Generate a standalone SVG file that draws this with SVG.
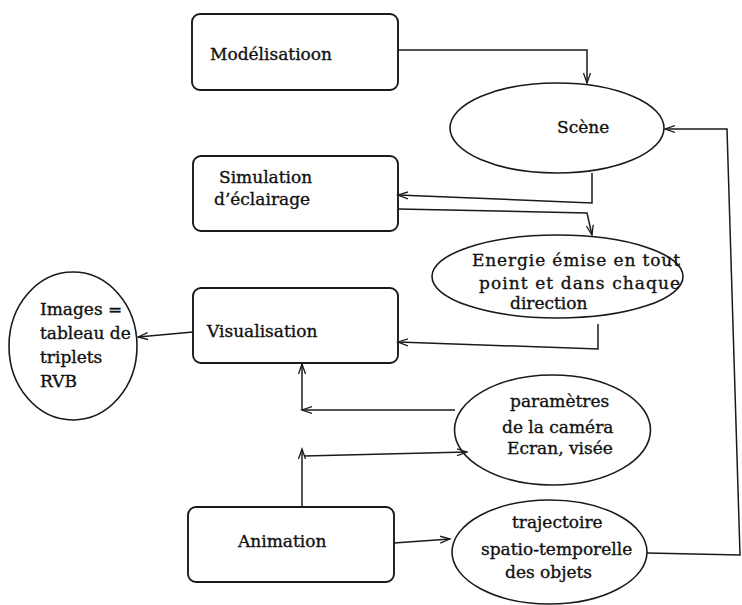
<svg xmlns="http://www.w3.org/2000/svg" width="742" height="605" viewBox="0 0 742 605">
<style>
.box{fill:none;stroke:#1a1a1a;stroke-width:1.9}
.ell{fill:none;stroke:#1a1a1a;stroke-width:1.6}
.t{font-family:"DejaVu Serif","Liberation Serif",serif;font-size:17px;fill:#111;stroke:#111;stroke-width:0.35}
.c{fill:none;stroke:#1a1a1a;stroke-width:1.5}
</style>
<defs>
<marker id="ah" markerUnits="userSpaceOnUse" markerWidth="12" markerHeight="10" refX="10" refY="5" orient="auto">
<path d="M0,1.5 L10,5 L0,8.5" fill="none" stroke="#1a1a1a" stroke-width="1.3"/>
</marker>
</defs>
<rect width="742" height="605" fill="#fff"/>
<g id="modelisation">
<rect class="box" x="192" y="14" width="206" height="76" rx="8"/>
<text class="t" x="210" y="60">Modélisatioon</text>
</g>
<g id="scene">
<ellipse class="ell" cx="557" cy="128" rx="107" ry="45"/>
<text class="t" x="557" y="133">Scène</text>
</g>
<g id="simulation">
<rect class="box" x="193" y="156" width="205" height="75" rx="8"/>
<text class="t" x="219" y="183">Simulation</text>
<text class="t" x="214" y="205">d’éclairage</text>
</g>
<g id="energie">
<ellipse class="ell" cx="557.5" cy="276.5" rx="125.5" ry="41.5"/>
<text class="t" x="472" y="266" textLength="208" lengthAdjust="spacing">Energie émise en tout</text>
<text class="t" x="479" y="289" textLength="201" lengthAdjust="spacing">point et dans chaque</text>
<text class="t" x="510" y="309">direction</text>
</g>
<g id="visualisation">
<rect class="box" x="193" y="288" width="205" height="75" rx="8"/>
<text class="t" x="207" y="337">Visualisation</text>
</g>
<g id="images">
<ellipse class="ell" cx="73" cy="346" rx="64" ry="74"/>
<text class="t" x="40" y="315">Images =</text>
<text class="t" x="40" y="339">tableau de</text>
<text class="t" x="40" y="363">triplets</text>
<text class="t" x="40" y="387">RVB</text>
</g>
<g id="parametres">
<ellipse class="ell" cx="552.5" cy="430" rx="98" ry="55"/>
<text class="t" x="510" y="407">paramètres</text>
<text class="t" x="502" y="433">de la caméra</text>
<text class="t" x="507" y="454">Ecran, visée</text>
</g>
<g id="animation">
<rect class="box" x="188" y="507" width="206" height="75" rx="8"/>
<text class="t" x="238" y="547">Animation</text>
</g>
<g id="trajectoire">
<ellipse class="ell" cx="549.5" cy="552" rx="97.5" ry="52"/>
<text class="t" x="512" y="528">trajectoire</text>
<text class="t" x="481" y="555">spatio-temporelle</text>
<text class="t" x="505" y="578">des objets</text>
</g>
<g id="connectors">
<polyline class="c" points="398,50 587,50 587,83" marker-end="url(#ah)"/>
<polyline class="c" points="592,173 592,203 398,195" marker-end="url(#ah)"/>
<polyline class="c" points="398,209 587,213 592,235" marker-end="url(#ah)"/>
<polyline class="c" points="598,324 598,349 398,342" marker-end="url(#ah)"/>
<polyline class="c" points="193,332 138,337" marker-end="url(#ah)"/>
<polyline class="c" points="455,410 302,410" marker-end="url(#ah)"/>
<polyline class="c" points="302,410 302,364" marker-end="url(#ah)"/>
<polyline class="c" points="302,507 302,449" marker-end="url(#ah)"/>
<polyline class="c" points="304,456 467,452" marker-end="url(#ah)"/>
<polyline class="c" points="394,543 450,539" marker-end="url(#ah)"/>
<polyline class="c" points="647,553 740,555 727,129 665,129" marker-end="url(#ah)"/>
</g>
</svg>
